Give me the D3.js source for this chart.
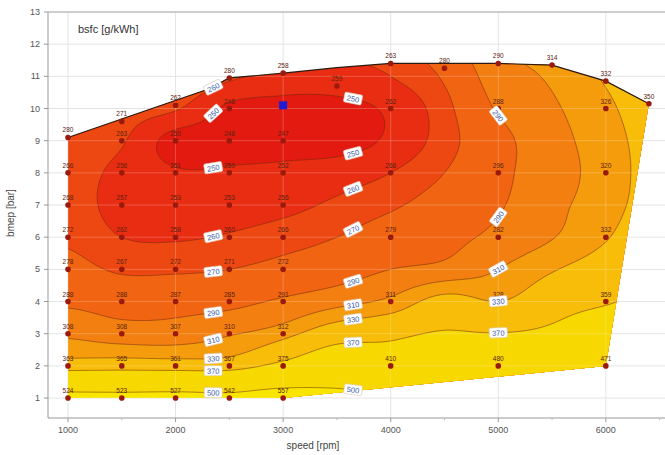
<!DOCTYPE html>
<html><head><meta charset="utf-8">
<script src="https://cdn.jsdelivr.net/npm/d3@7"></script>
<style>body{margin:0;background:#fff}svg{display:block}</style>
</head><body>
<svg id="c" width="665" height="455"></svg>
<script>
// ---------------- data ----------------
const gridSpeeds = [1000,1500,2000,2500,3000,3500,4000,4500,5000,5500,6000,6500];
const gridBmep = [1,2,3,4,5,6,7,8,9,10,11,12];
// bsfc field [g/kWh], one array per speed column, values for bmep 1..12
const col1000 = [524,350,306,287,275,268,265,265,267,270,275,280];
const col1500 = [522,352,300,283,268,260,256,257,261,265,270,276];
const col2000 = [525,350,300,284,268,259,254,251,246,261,270,276];
const col2500 = [520,352,308,285,270,261,255,251,247,248,262,270];
const col3000 = [540,385,322,293,275,265,257,252,247,247,256,265];
const col3500 = [525,420,350,303,281,270,262,255,246,247,256,262];
const col4000 = [505,410,360,315,290,278,268,260,252,252,260,266];
const col4500 = [500,440,375,340,296,284,277,270,265,266,272,280];
const col5000 = [495,480,372,330,310,295,288,285,284,292,300,308];
const col5500 = [490,470,385,350,328,309,305,302,303,307,313,320];
const col6000 = [495,471,420,365,345,328,320,318,320,325,333,342];
const col6500 = [500,490,440,390,370,355,345,342,343,348,356,365];
const bsfcColumns = [col1000,col1500,col2000,col2500,col3000,col3500,col4000,col4500,col5000,col5500,col6000,col6500];

const levels = [250,260,270,290,310,330,370,500];
const bandColors = ["#e21a10","#e92d12","#ed4812","#f06412","#f37f10","#f59c0c","#f7bd08","#f7d800","#f8e600"];

// operating envelope
const envSpeed = [1000,1000,2300,2500,3000,3500,4000,5000,5500,6000,6400,6000,3000];
const envBmep  = [1.0, 9.1, 10.6,10.95,11.1,11.27,11.4,11.4,11.35,10.85,10.15,2.0,1.0];
const envTopCount = 11; // first 11 vertices form the upper outline

// measured points and their bsfc labels
const ptSpeed = [1000,1000,1000,1000,1000,1000,1000,1000,1000,
  1500,1500,1500,1500,1500,1500,1500,1500,1500,1500,
  2000,2000,2000,2000,2000,2000,2000,2000,2000,2000,
  2500,2500,2500,2500,2500,2500,2500,2500,2500,2500,2500,
  3000,3000,3000,3000,3000,3000,3000,3000,3000,3000,
  3500,
  4000,4000,4000,4000,4000,4000,
  4500,
  5000,5000,5000,5000,5000,5000,
  5500,
  6000,6000,6000,6000,6000,6000,
  6400];
const ptBmep = [1,2,3,4,5,6,7,8,9.1,
  1,2,3,4,5,6,7,8,9,9.6,
  1,2,3,4,5,6,7,8,9,10.1,
  1,2,3,4,5,6,7,8,9,10,10.95,
  1,2,3,4,5,6,7,8,9,11.1,
  10.7,
  2,4,6,8,10,11.4,
  11.25,
  2,4,6,8,10,11.4,
  11.35,
  2,4,6,8,10,10.85,
  10.15];
const ptLabel = ["524","363","308","288","278","272","268","266","280",
  "523","365","308","288","267","262","257","256","263","271",
  "527","361","307","287","272","258","253","251","250","262",
  "542","367","310","285","271","260","253","250","248","248","280",
  "557","375","312","291","272","266","256","252","247","258",
  "259",
  "410","311","279","268","262","263",
  "280",
  "480","328","282","296","288","290",
  "314",
  "471","359","332","320","326","332",
  "350"];
const markSpeed = [3000], markBmep = [10.1];

const xTicks = [1000,2000,3000,4000,5000,6000];
const xMinor = [1500,2500,3500,4500,5500,6500];
const yTicks = [1,2,3,4,5,6,7,8,9,10,11,12,13];
const labelColumns = [2350,3650,5000];

// ---------------- setup ----------------
const W = 665, H = 455;
const svg = d3.select("#c");
const x = d3.scaleLinear().domain([814, 6550]).range([48, 665]);
const y = d3.scaleLinear().domain([0.38, 13]).range([418, 12]);

// bicubic (Catmull-Rom) interpolation of the grid
function cr(p0,p1,p2,p3,t){return 0.5*((2*p1)+(-p0+p2)*t+(2*p0-5*p1+4*p2-p3)*t*t+(-p0+3*p1-3*p2+p3)*t*t*t);}
const nS = gridSpeeds.length, nB = gridBmep.length;
function g(i,j){i=Math.max(0,Math.min(nS-1,i));j=Math.max(0,Math.min(nB-1,j));return bsfcColumns[i][j];}
function field(s,b){
  let u=(s-gridSpeeds[0])/(gridSpeeds[1]-gridSpeeds[0]);
  let v=(b-gridBmep[0])/(gridBmep[1]-gridBmep[0]);
  u=Math.max(0,Math.min(nS-1,u)); v=Math.max(0,Math.min(nB-1,v));
  let i=Math.min(nS-2,Math.floor(u)), j=Math.min(nB-2,Math.floor(v));
  const t=u-i, tv=v-j;
  const r=[];
  for(let jj=j-1;jj<=j+2;jj++) r.push(cr(g(i-1,jj),g(i,jj),g(i+1,jj),g(i+2,jj),t));
  return cr(r[0],r[1],r[2],r[3],tv);
}

// fine grid
const s0=950, ds=20, b0=0.85, db=0.04;
const nx=Math.round((6560-s0)/ds)+1, ny=Math.round((12-b0)/db)+1;
const vals=new Array(nx*ny);
for(let j=0;j<ny;j++)for(let i=0;i<nx;i++)vals[j*nx+i]=field(s0+i*ds,b0+j*db);
const contours=d3.contours().size([nx,ny]).thresholds(levels)(vals);
function toPath(mp){
  let str="";
  mp.coordinates.forEach(poly=>poly.forEach(ring=>{
    str+="M"+ring.map(p=>{const s=s0+(p[0]-0.5)*ds,b=b0+(p[1]-0.5)*db;return x(s).toFixed(2)+","+y(b).toFixed(2);}).join("L")+"Z";
  }));
  return str;
}

// grid background
const gridG=svg.append("g");
yTicks.forEach(t=>gridG.append("line").attr("x1",48).attr("x2",W).attr("y1",y(t)).attr("y2",y(t)).attr("stroke","#e4e4e4"));
xTicks.forEach(t=>gridG.append("line").attr("x1",x(t)).attr("x2",x(t)).attr("y1",12).attr("y2",418).attr("stroke","#e4e4e4"));

// envelope clip
const envPts=envSpeed.map((s,i)=>[x(s),y(envBmep[i])]);
svg.append("clipPath").attr("id","env").append("path").attr("d","M"+envPts.join("L")+"Z");
const plot=svg.append("g").attr("clip-path","url(#env)");
plot.append("path").attr("d","M"+envPts.join("L")+"Z").attr("fill",bandColors[0]);
contours.forEach((c,k)=>{
  plot.append("path").attr("d",toPath(c)).attr("fill",bandColors[k+1]).attr("fill-rule","evenodd");
});
contours.forEach(c=>{
  plot.append("path").attr("d",toPath(c)).attr("fill","none").attr("stroke","#6e2a10").attr("stroke-width",0.7).attr("stroke-opacity",0.75);
});
// light grid over fill
yTicks.forEach(t=>plot.append("line").attr("x1",48).attr("x2",W).attr("y1",y(t)).attr("y2",y(t)).attr("stroke","#fff").attr("stroke-opacity",0.22));
xTicks.forEach(t=>plot.append("line").attr("x1",x(t)).attr("x2",x(t)).attr("y1",12).attr("y2",418).attr("stroke","#fff").attr("stroke-opacity",0.22));

// envelope top outline
svg.append("path").attr("d","M"+envPts.slice(1,envTopCount).join("L")).attr("fill","none").attr("stroke","#2a1a10").attr("stroke-width",1.2);

// axes
svg.append("line").attr("x1",48).attr("x2",48).attr("y1",12).attr("y2",418).attr("stroke","#999");
svg.append("line").attr("x1",48).attr("x2",W).attr("y1",418).attr("y2",418).attr("stroke","#999");
svg.append("line").attr("x1",48).attr("x2",W).attr("y1",12).attr("y2",12).attr("stroke","#aaa");
const axG=svg.append("g").attr("font-family","Liberation Sans, Arial, sans-serif").attr("font-size",9).attr("fill","#555");
yTicks.forEach(t=>{
  axG.append("line").attr("x1",44).attr("x2",48).attr("y1",y(t)).attr("y2",y(t)).attr("stroke","#999");
  axG.append("text").attr("x",40).attr("y",y(t)+3).attr("text-anchor","end").text(t);
});
xTicks.forEach(t=>{
  axG.append("line").attr("x1",x(t)).attr("x2",x(t)).attr("y1",418).attr("y2",422).attr("stroke","#999");
  axG.append("text").attr("x",x(t)).attr("y",433).attr("text-anchor","middle").text(t);
});
xMinor.forEach(t=>{ if(x(t)<W) axG.append("line").attr("x1",x(t)).attr("x2",x(t)).attr("y1",418).attr("y2",420).attr("stroke","#bbb");});
svg.append("text").attr("x",313).attr("y",449).attr("text-anchor","middle").attr("font-family","Liberation Sans, Arial, sans-serif").attr("font-size",10).attr("fill","#444").text("speed [rpm]");
svg.append("text").attr("transform","translate(14,213) rotate(-90)").attr("text-anchor","middle").attr("font-family","Liberation Sans, Arial, sans-serif").attr("font-size",10).attr("fill","#444").text("bmep [bar]");
svg.append("text").attr("x",78).attr("y",33).attr("font-family","Liberation Sans, Arial, sans-serif").attr("font-size",11).attr("fill","#333").text("bsfc [g/kWh]");

// points
const ptG=svg.append("g");
ptSpeed.forEach((s,i)=>{
  ptG.append("circle").attr("cx",x(s)).attr("cy",y(ptBmep[i])).attr("r",2.8).attr("fill","#9a1a0e");
  ptG.append("text").attr("x",x(s)).attr("y",y(ptBmep[i])-5).attr("text-anchor","middle")
    .attr("font-family","Liberation Sans, Arial, sans-serif").attr("font-size",6.5).attr("fill","#5a2210").text(ptLabel[i]);
});
markSpeed.forEach((s,i)=>ptG.append("rect").attr("x",x(s)-4).attr("y",y(markBmep[i])-4).attr("width",8).attr("height",8).attr("fill","#1c1cd8"));

// contour labels
function inside(px,py){return d3.polygonContains(envPts,[px,py]);}
const labG=svg.append("g");
labelColumns.forEach(cs=>{
  let prev=field(cs,1);
  for(let b=1.01;b<=11.6;b+=0.01){
    const cur=field(cs,b);
    levels.forEach(L=>{
      if((prev-L)*(cur-L)<0){
        const px=x(cs),py=y(b);
        if(!inside(px,py)) return;
        const fx=(field(x.invert(px+1),b)-field(x.invert(px-1),b))/2;
        const fy=(field(cs,y.invert(py+1))-field(cs,y.invert(py-1)))/2;
        let ang=Math.atan2(fx,-fy)*180/Math.PI;
        if(ang>90)ang-=180; if(ang<-90)ang+=180;
        const gg=labG.append("g").attr("transform",`translate(${px},${py}) rotate(${ang})`);
        gg.append("rect").attr("x",-9).attr("y",-5).attr("width",18).attr("height",10).attr("rx",1.5).attr("fill","#fff").attr("stroke","#d8c8b8").attr("stroke-width",0.6);
        gg.append("text").attr("y",3).attr("text-anchor","middle").attr("font-family","Liberation Sans, Arial, sans-serif").attr("font-size",7.5).attr("fill","#3a5aa8").text(L);
      }
    });
    prev=cur;
  }
});
</script>
</body></html>
